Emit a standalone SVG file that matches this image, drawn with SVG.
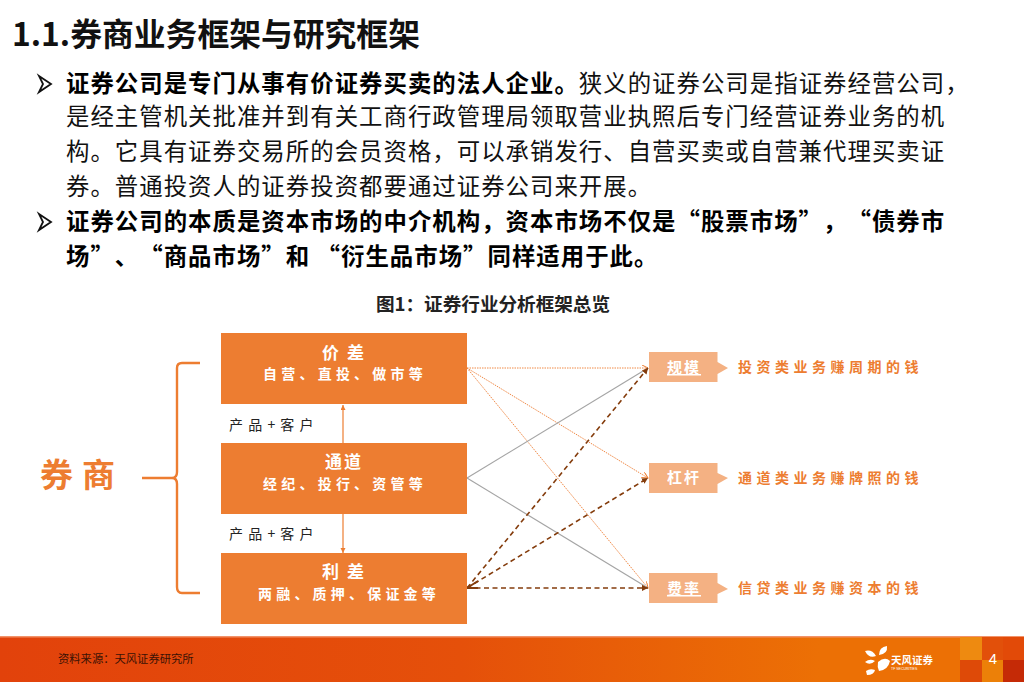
<svg xmlns="http://www.w3.org/2000/svg" width="1024" height="682" viewBox="0 0 1024 682">
<style>
text{font-family:"Liberation Sans","Noto Sans CJK SC",sans-serif;text-spacing-trim:space-all}
.cjk{font-family:"Noto Sans CJK SC",sans-serif}
.b{font-size:23.4px;letter-spacing:1.03px;fill:#111}
.bb{font-weight:700;fill:#000}
.box{fill:#ED7D31}
.sm{fill:#F4B183}
.w{fill:#fff;text-anchor:middle;font-weight:700}
.t1{font-size:17px;letter-spacing:2px}
.t2{font-size:14px;letter-spacing:4.200px}
.o{fill:#ED7D31;font-size:14px;font-weight:700;letter-spacing:4.500px}
.k{fill:#222;font-size:14px;letter-spacing:5.200px}
.dot{stroke:#F08A47;stroke-width:1;stroke-dasharray:1.5 1;fill:none;marker-end:url(#ao)}
.gr{stroke:#A5A5A5;stroke-width:1.2;fill:none}
.da{stroke:#843C0C;stroke-width:1.6;stroke-dasharray:5 3.5;fill:none;marker-end:url(#ab)}
.v{stroke:#ED7D31;stroke-width:1.2;fill:none;marker-end:url(#av)}
</style>
<defs>
<marker id="ao" markerWidth="7" markerHeight="7" refX="6" refY="3" orient="auto" markerUnits="userSpaceOnUse"><path d="M0 0L6 3L0 6" fill="none" stroke="#ED7D31"/></marker>
<marker id="ab" markerWidth="7" markerHeight="7" refX="6" refY="3" orient="auto" markerUnits="userSpaceOnUse"><path d="M0 0L6 3L0 6Z" fill="#843C0C"/></marker>
<marker id="av" markerWidth="7" markerHeight="6" refX="5" refY="2.5" orient="auto" markerUnits="userSpaceOnUse"><path d="M0 0L5 2.5L0 5Z" fill="#ED7D31"/></marker>
<linearGradient id="ft" x1="0" x2="1" y1="0" y2="0"><stop offset="0" stop-color="#E2420B"/><stop offset=".45" stop-color="#E5500A"/><stop offset=".8" stop-color="#EC7005"/><stop offset="1" stop-color="#EC7005"/></linearGradient>
</defs>
<rect width="1024" height="682" fill="#fff"/>
<text id="title" x="12" y="46" class="cjk" font-size="31.800" font-weight="700" fill="#111">1.1.券商业务框架与研究框架</text>
<g id="bullets">
<path d="M39 76L51 84L39 92L43 84Z M39 214L51 222L39 230L43 222Z" fill="none" stroke="#111" stroke-width="1.8"/>
<text x="66" y="92" class="b cjk"><tspan class="bb">证券公司是专门从事有价证券买卖的法人企业。</tspan>狭义的证券公司是指证券经营公司，</text>
<text x="66" y="125" class="b cjk">是经主管机关批准并到有关工商行政管理局领取营业执照后专门经营证券业务的机</text>
<text x="66" y="160" class="b cjk">构。它具有证券交易所的会员资格，可以承销发行、自营买卖或自营兼代理买卖证</text>
<text x="66" y="195" class="b cjk">券。普通投资人的证券投资都要通过证券公司来开展。</text>
<text x="66" y="230" class="b bb cjk">证券公司的本质是资本市场的中介机构，资本市场不仅是“股票市场”，“债券市</text>
<text x="66" y="265" class="b bb cjk">场”、“商品市场”和 “衍生品市场”同样适用于此。</text>
</g>
<text id="caption" x="493" y="311" class="cjk" text-anchor="middle" font-size="18.600" font-weight="700" fill="#222">图1：证券行业分析框架总览</text>
<g id="connectors">
<path class="v" d="M343 443V405"/>
<path class="v" d="M343 514V553"/>
<path class="dot" d="M467 368H648"/>
<path class="dot" d="M467 368L648 478"/>
<path class="dot" d="M467 368L648 588"/>
<path class="gr" d="M467 478L648 368"/>
<path class="gr" d="M467 478L648 588"/>
<path class="da" d="M467 588L648 368"/>
<path class="da" d="M467 588L648 478"/>
<path class="da" d="M467 588H648"/>
<path d="M467 588L478 581M467 588H478" stroke="#843C0C" stroke-width="2" fill="none"/>
<path d="M200 363H182Q177 363 177 368V472Q177 478 172 478H142M172 478Q177 478 177 484V587Q177 593 182 593H200" fill="none" stroke="#ED7D31" stroke-width="2.4"/>
</g>
<g id="brand"><text x="82" y="487" class="cjk" text-anchor="middle" font-size="33" font-weight="700" letter-spacing="9" fill="#ED7D31">券商</text></g>
<g id="node-jiacha">
<rect class="box" x="221" y="333" width="246" height="71"/>
<text x="344" y="359" class="w t1 cjk">价 差</text>
<text x="345" y="379" class="w t2 cjk">自营、直投、做市等</text>
</g>
<g id="node-tongdao">
<rect class="box" x="221" y="443" width="246" height="71"/>
<text x="344" y="468" class="w t1 cjk">通道</text>
<text x="345" y="489" class="w t2 cjk">经纪、投行、资管等</text>
</g>
<g id="node-licha">
<rect class="box" x="221" y="553" width="246" height="71"/>
<text x="344" y="578" class="w t1 cjk">利 差</text>
<text x="349" y="599" class="w t2 cjk">两融、质押、保证金等</text>
</g>
<g id="label-1"><text x="229" y="430" class="k cjk">产品+客户</text></g>
<g id="label-2"><text x="229" y="539" class="k cjk">产品+客户</text></g>
<g id="node-guimo">
<path class="sm" d="M649 352H717.500V362L728 368L717.500 374V382H649Z"/>
<text x="684" y="373" class="w cjk" font-size="15" letter-spacing="2" text-decoration="underline">规模</text>
<text x="738" y="372" class="o cjk">投资类业务赚周期的钱</text>
</g>
<g id="node-ganggan">
<path class="sm" d="M649 463H717.500V473L728 478L717.500 484V493H649Z"/>
<text x="684" y="483" class="w cjk" font-size="15" letter-spacing="2">杠杆</text>
<text x="738" y="483" class="o cjk">通道类业务赚牌照的钱</text>
</g>
<g id="node-feilv">
<path class="sm" d="M649 573H717.500V583L728 589L717.500 594V603H649Z"/>
<text x="684" y="594" class="w cjk" font-size="15" letter-spacing="2" text-decoration="underline">费率</text>
<text x="738" y="593" class="o cjk">信贷类业务赚资本的钱</text>
</g>
<g id="footer">
<rect x="0" y="636" width="1024" height="46" fill="url(#ft)"/>
<rect x="0" y="636" width="1024" height="1.500" fill="#F2936A"/>
<rect x="960" y="637" width="22" height="23" fill="#EE8A10"/>
<rect x="982" y="637" width="21" height="23" fill="#E2500A"/>
<rect x="1003" y="637" width="21" height="23" fill="#E24A08"/>
<rect x="960" y="660" width="22" height="22" fill="#DE4A08"/>
<rect x="982" y="660" width="21" height="22" fill="#EC8008"/>
<rect x="1003" y="660" width="21" height="22" fill="#C52A06"/>
<text x="58" y="663" class="cjk" font-size="11.300" fill="#3a1205">资料来源：天风证券研究所</text>
<path d="M865 651Q872 649 876 656Q869 659 865 651ZM879 655Q879 647 887 646Q888 654 879 655ZM865 662Q870 658 875 661Q870 666 865 662ZM878 662Q885 656 890 661Q888 670 879 671Q877 667 878 662ZM866 671Q870 668 875 670Q874 675 867 675Z" fill="#fff"/>
<text x="891" y="664" class="cjk" font-size="10.500" font-weight="700" fill="#fff">天风证券</text>
<text x="891" y="670" font-size="3.500" fill="#fff">TF SECURITIES</text>
<text x="993" y="664" font-size="15" text-anchor="middle" fill="#fff">4</text>
</g>
</svg>
